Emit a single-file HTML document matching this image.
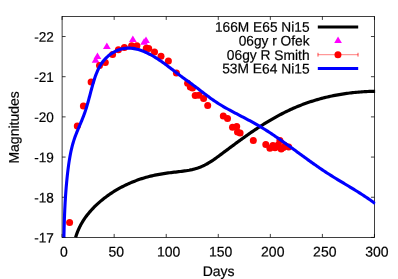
<!DOCTYPE html>
<html><head><meta charset="utf-8"><style>
html,body{margin:0;padding:0;background:#fff;}
svg{display:block;}
text{filter:grayscale(1);}
text{font-family:"Liberation Sans",sans-serif;font-size:14px;fill:#000;stroke:#000;stroke-width:0.2px;}
</style></head><body>
<svg width="398" height="279" viewBox="0 0 398 279">
<rect width="398" height="279" fill="#fff"/>
<rect x="62.10" y="16.43" width="312.35" height="221.00" fill="none" stroke="#000" stroke-width="0.75"/>
<path d="M62.10 237.43 V233.93 M62.10 16.43 V19.93 M114.16 237.43 V233.93 M114.16 16.43 V19.93 M166.22 237.43 V233.93 M166.22 16.43 V19.93 M218.27 237.43 V233.93 M218.27 16.43 V19.93 M270.33 237.43 V233.93 M270.33 16.43 V19.93 M322.39 237.43 V233.93 M322.39 16.43 V19.93 M374.45 237.43 V233.93 M374.45 16.43 V19.93 M62.10 237.43 H65.60 M374.45 237.43 H370.95 M62.10 197.25 H65.60 M374.45 197.25 H370.95 M62.10 157.07 H65.60 M374.45 157.07 H370.95 M62.10 116.88 H65.60 M374.45 116.88 H370.95 M62.10 76.70 H65.60 M374.45 76.70 H370.95 M62.10 36.52 H65.60 M374.45 36.52 H370.95 " stroke="#000" stroke-width="0.75" fill="none"/>
<text transform="translate(63.90,256.4) rotate(0.03)" text-anchor="middle">0</text>
<text transform="translate(116.26,256.4) rotate(0.03)" text-anchor="middle">50</text>
<text transform="translate(168.62,256.4) rotate(0.03)" text-anchor="middle">100</text>
<text transform="translate(220.67,256.4) rotate(0.03)" text-anchor="middle">150</text>
<text transform="translate(272.73,256.4) rotate(0.03)" text-anchor="middle">200</text>
<text transform="translate(324.79,256.4) rotate(0.03)" text-anchor="middle">250</text>
<text transform="translate(376.85,256.4) rotate(0.03)" text-anchor="middle">300</text>
<text transform="translate(53.8,242.63) rotate(0.03) scale(0.97,1)" text-anchor="end">-17</text>
<text transform="translate(53.8,202.45) rotate(0.03) scale(0.97,1)" text-anchor="end">-18</text>
<text transform="translate(53.8,162.27) rotate(0.03) scale(0.97,1)" text-anchor="end">-19</text>
<text transform="translate(53.8,122.08) rotate(0.03) scale(0.97,1)" text-anchor="end">-20</text>
<text transform="translate(53.8,81.90) rotate(0.03) scale(0.97,1)" text-anchor="end">-21</text>
<text transform="translate(53.8,41.72) rotate(0.03) scale(0.97,1)" text-anchor="end">-22</text>
<text transform="translate(218.6,276) rotate(0.03)" text-anchor="middle">Days</text>
<text transform="translate(18.8,127.4) rotate(-89.97)" text-anchor="middle">Magnitudes</text>
<clipPath id="c"><rect x="61.60" y="16.43" width="313.75" height="221.40"/></clipPath>
<g clip-path="url(#c)">
<path d="M75.61 237.50 L76.05 236.02 L76.54 234.55 L77.05 233.10 L77.60 231.67 L78.18 230.26 L78.79 228.87 L79.43 227.50 L80.10 226.14 L80.80 224.81 L81.53 223.50 L82.29 222.20 L83.07 220.92 L83.89 219.66 L84.72 218.42 L85.58 217.20 L86.47 215.99 L87.37 214.80 L88.31 213.63 L89.26 212.48 L90.23 211.34 L91.23 210.22 L92.24 209.12 L93.27 208.04 L94.32 206.97 L95.39 205.91 L96.48 204.88 L97.58 203.86 L98.69 202.85 L99.82 201.86 L100.97 200.89 L102.13 199.93 L103.30 198.99 L104.48 198.06 L105.68 197.15 L106.89 196.26 L108.11 195.38 L109.34 194.51 L110.59 193.66 L111.84 192.83 L113.11 192.02 L114.39 191.22 L115.68 190.43 L116.97 189.67 L118.28 188.91 L119.60 188.18 L120.93 187.46 L122.26 186.76 L123.61 186.07 L124.96 185.40 L126.33 184.74 L127.70 184.11 L129.07 183.49 L130.46 182.88 L131.85 182.29 L133.25 181.72 L134.66 181.17 L136.07 180.63 L137.49 180.11 L138.91 179.60 L140.34 179.11 L141.78 178.64 L143.22 178.19 L144.66 177.75 L146.11 177.33 L147.56 176.93 L149.02 176.54 L150.48 176.17 L151.95 175.82 L153.41 175.48 L154.88 175.17 L156.36 174.87 L157.83 174.58 L159.31 174.31 L160.79 174.06 L162.27 173.82 L163.75 173.59 L165.24 173.37 L166.73 173.16 L168.22 172.96 L169.71 172.76 L171.21 172.57 L172.70 172.39 L174.20 172.21 L175.70 172.04 L177.20 171.86 L178.70 171.69 L180.21 171.51 L181.71 171.33 L183.21 171.14 L184.71 170.94 L186.20 170.72 L187.69 170.47 L189.17 170.21 L190.64 169.91 L192.10 169.59 L193.55 169.23 L194.99 168.84 L196.42 168.41 L197.83 167.96 L199.23 167.46 L200.62 166.94 L201.99 166.37 L203.35 165.77 L204.69 165.13 L206.01 164.45 L207.32 163.73 L208.62 162.98 L209.89 162.21 L211.16 161.40 L212.42 160.57 L213.67 159.72 L214.90 158.85 L216.14 157.97 L217.36 157.08 L218.59 156.18 L219.80 155.28 L221.02 154.37 L222.24 153.47 L223.45 152.56 L224.67 151.66 L225.88 150.75 L227.10 149.85 L228.31 148.94 L229.52 148.04 L230.73 147.14 L231.95 146.24 L233.16 145.35 L234.37 144.45 L235.59 143.55 L236.80 142.66 L238.02 141.77 L239.24 140.89 L240.46 140.00 L241.68 139.12 L242.90 138.24 L244.12 137.37 L245.35 136.49 L246.58 135.62 L247.81 134.76 L249.04 133.90 L250.27 133.04 L251.51 132.19 L252.75 131.34 L254.00 130.50 L255.25 129.66 L256.50 128.83 L257.75 128.00 L259.01 127.18 L260.28 126.36 L261.54 125.55 L262.81 124.75 L264.09 123.95 L265.37 123.15 L266.66 122.37 L267.95 121.59 L269.24 120.82 L270.54 120.05 L271.84 119.30 L273.15 118.55 L274.46 117.80 L275.78 117.07 L277.10 116.34 L278.42 115.63 L279.75 114.92 L281.09 114.22 L282.43 113.52 L283.77 112.84 L285.12 112.17 L286.47 111.50 L287.83 110.85 L289.19 110.21 L290.55 109.57 L291.92 108.95 L293.30 108.33 L294.68 107.73 L296.06 107.14 L297.45 106.56 L298.84 105.99 L300.24 105.43 L301.64 104.88 L303.04 104.35 L304.45 103.82 L305.86 103.31 L307.28 102.81 L308.70 102.32 L310.13 101.84 L311.56 101.38 L312.99 100.92 L314.43 100.47 L315.87 100.04 L317.31 99.62 L318.76 99.21 L320.21 98.80 L321.66 98.41 L323.11 98.04 L324.57 97.67 L326.03 97.31 L327.50 96.96 L328.97 96.63 L330.44 96.30 L331.91 95.99 L333.38 95.68 L334.86 95.39 L336.34 95.11 L337.82 94.83 L339.30 94.57 L340.79 94.32 L342.28 94.08 L343.77 93.85 L345.26 93.63 L346.75 93.42 L348.25 93.22 L349.74 93.03 L351.24 92.84 L352.74 92.67 L354.24 92.51 L355.74 92.36 L357.24 92.22 L358.74 92.09 L360.25 91.97 L361.75 91.86 L363.25 91.76 L364.76 91.67 L366.27 91.58 L367.77 91.51 L369.28 91.45 L370.79 91.40 L372.29 91.35 L373.80 91.32 L375.31 91.29" stroke="#000" stroke-width="3.2" fill="none" stroke-linejoin="round"/>
<path d="M97.45 52.55 L101.30 59.05 L93.60 59.05 Z" fill="#ff00ff"/>
<path d="M95.60 56.35 L99.45 62.85 L91.75 62.85 Z" fill="#ff00ff"/>
<path d="M106.85 42.55 L110.70 49.05 L103.00 49.05 Z" fill="#ff00ff"/>
<path d="M132.85 35.55 L136.70 42.05 L129.00 42.05 Z" fill="#ff00ff"/>
<path d="M146.00 36.55 L149.85 43.05 L142.15 43.05 Z" fill="#ff00ff"/>
<path d="M144.10 38.35 L147.95 44.85 L140.25 44.85 Z" fill="#ff00ff"/>
<circle cx="69.60" cy="222.60" r="3.5" fill="#ff0000"/>
<circle cx="77.30" cy="126.00" r="3.5" fill="#ff0000"/>
<circle cx="83.40" cy="105.90" r="3.5" fill="#ff0000"/>
<circle cx="91.10" cy="81.90" r="3.5" fill="#ff0000"/>
<circle cx="99.50" cy="65.60" r="3.5" fill="#ff0000"/>
<circle cx="105.30" cy="62.50" r="3.5" fill="#ff0000"/>
<circle cx="112.60" cy="54.50" r="3.5" fill="#ff0000"/>
<circle cx="118.40" cy="49.80" r="3.5" fill="#ff0000"/>
<circle cx="124.40" cy="47.60" r="3.5" fill="#ff0000"/>
<circle cx="131.60" cy="45.80" r="3.5" fill="#ff0000"/>
<circle cx="136.90" cy="45.80" r="3.5" fill="#ff0000"/>
<circle cx="146.30" cy="48.30" r="3.5" fill="#ff0000"/>
<circle cx="148.70" cy="48.40" r="3.5" fill="#ff0000"/>
<circle cx="154.50" cy="51.90" r="3.5" fill="#ff0000"/>
<circle cx="161.00" cy="56.20" r="3.5" fill="#ff0000"/>
<circle cx="168.40" cy="61.00" r="3.5" fill="#ff0000"/>
<circle cx="176.40" cy="73.00" r="3.5" fill="#ff0000"/>
<circle cx="187.60" cy="83.30" r="3.5" fill="#ff0000"/>
<circle cx="190.30" cy="87.00" r="3.5" fill="#ff0000"/>
<circle cx="192.50" cy="87.90" r="3.5" fill="#ff0000"/>
<circle cx="195.20" cy="95.60" r="3.5" fill="#ff0000"/>
<circle cx="199.00" cy="95.20" r="3.5" fill="#ff0000"/>
<circle cx="203.60" cy="98.50" r="3.5" fill="#ff0000"/>
<circle cx="207.70" cy="105.50" r="3.5" fill="#ff0000"/>
<circle cx="223.30" cy="115.90" r="3.5" fill="#ff0000"/>
<circle cx="227.50" cy="118.40" r="3.5" fill="#ff0000"/>
<circle cx="232.50" cy="127.30" r="3.5" fill="#ff0000"/>
<circle cx="236.70" cy="126.40" r="3.5" fill="#ff0000"/>
<circle cx="237.50" cy="132.00" r="3.5" fill="#ff0000"/>
<circle cx="240.10" cy="132.90" r="3.5" fill="#ff0000"/>
<circle cx="253.30" cy="140.50" r="3.5" fill="#ff0000"/>
<circle cx="265.80" cy="144.60" r="3.5" fill="#ff0000"/>
<circle cx="269.90" cy="148.20" r="3.5" fill="#ff0000"/>
<circle cx="272.90" cy="145.40" r="3.5" fill="#ff0000"/>
<circle cx="276.70" cy="146.40" r="3.5" fill="#ff0000"/>
<circle cx="279.90" cy="140.50" r="3.5" fill="#ff0000"/>
<circle cx="281.20" cy="149.10" r="3.5" fill="#ff0000"/>
<circle cx="285.00" cy="145.80" r="3.5" fill="#ff0000"/>
<circle cx="288.70" cy="146.90" r="3.5" fill="#ff0000"/>
<circle cx="275.00" cy="147.80" r="3.5" fill="#ff0000"/>
<circle cx="283.40" cy="147.60" r="3.5" fill="#ff0000"/>
<circle cx="278.30" cy="144.80" r="3.5" fill="#ff0000"/>
<path d="M63.90 237.40 L63.93 235.89 L63.96 234.39 L64.00 232.89 L64.04 231.38 L64.07 229.88 L64.11 228.38 L64.15 226.87 L64.20 225.37 L64.24 223.87 L64.29 222.36 L64.34 220.86 L64.39 219.36 L64.44 217.85 L64.50 216.35 L64.55 214.85 L64.61 213.34 L64.68 211.84 L64.74 210.34 L64.81 208.83 L64.89 207.33 L64.96 205.83 L65.04 204.32 L65.12 202.82 L65.21 201.32 L65.30 199.82 L65.39 198.31 L65.49 196.81 L65.59 195.31 L65.69 193.81 L65.80 192.31 L65.91 190.81 L66.03 189.31 L66.15 187.81 L66.28 186.31 L66.41 184.81 L66.54 183.31 L66.68 181.81 L66.83 180.31 L66.97 178.81 L67.13 177.31 L67.29 175.81 L67.45 174.32 L67.62 172.82 L67.80 171.32 L67.98 169.83 L68.17 168.33 L68.36 166.83 L68.56 165.34 L68.77 163.85 L68.99 162.36 L69.22 160.87 L69.46 159.38 L69.71 157.90 L69.97 156.42 L70.24 154.94 L70.53 153.46 L70.83 151.99 L71.15 150.53 L71.48 149.06 L71.83 147.60 L72.20 146.15 L72.58 144.70 L72.99 143.26 L73.41 141.82 L73.86 140.39 L74.32 138.96 L74.81 137.55 L75.32 136.13 L75.85 134.73 L76.40 133.33 L76.96 131.93 L77.53 130.54 L78.11 129.15 L78.70 127.76 L79.29 126.37 L79.88 124.99 L80.47 123.60 L81.05 122.21 L81.63 120.83 L82.20 119.44 L82.75 118.04 L83.30 116.65 L83.83 115.25 L84.34 113.85 L84.84 112.44 L85.33 111.03 L85.79 109.62 L86.24 108.20 L86.68 106.78 L87.11 105.36 L87.52 103.93 L87.93 102.50 L88.32 101.06 L88.72 99.62 L89.10 98.18 L89.49 96.74 L89.87 95.29 L90.25 93.84 L90.64 92.39 L91.02 90.94 L91.41 89.48 L91.81 88.02 L92.21 86.56 L92.62 85.10 L93.04 83.64 L93.48 82.18 L93.92 80.71 L94.38 79.25 L94.86 77.79 L95.36 76.34 L95.88 74.89 L96.43 73.46 L97.01 72.04 L97.61 70.64 L98.25 69.26 L98.93 67.90 L99.64 66.57 L100.40 65.26 L101.19 63.98 L102.03 62.74 L102.92 61.53 L103.86 60.35 L104.86 59.22 L105.90 58.12 L106.99 57.07 L108.12 56.07 L109.29 55.11 L110.50 54.21 L111.75 53.36 L113.03 52.56 L114.33 51.83 L115.66 51.15 L117.02 50.53 L118.39 49.98 L119.79 49.50 L121.19 49.09 L122.61 48.75 L124.03 48.48 L125.47 48.29 L126.90 48.17 L128.34 48.13 L129.78 48.15 L131.22 48.25 L132.66 48.40 L134.11 48.62 L135.55 48.89 L136.99 49.22 L138.42 49.60 L139.86 50.04 L141.28 50.52 L142.71 51.04 L144.12 51.61 L145.53 52.22 L146.93 52.86 L148.33 53.54 L149.71 54.25 L151.08 54.98 L152.44 55.75 L153.79 56.53 L155.12 57.34 L156.44 58.16 L157.75 59.00 L159.04 59.85 L160.31 60.71 L161.57 61.58 L162.81 62.45 L164.04 63.33 L165.25 64.21 L166.45 65.10 L167.65 66.00 L168.83 66.89 L170.01 67.79 L171.18 68.69 L172.35 69.59 L173.52 70.49 L174.69 71.39 L175.86 72.29 L177.03 73.19 L178.20 74.09 L179.38 74.98 L180.57 75.87 L181.76 76.76 L182.97 77.65 L184.17 78.53 L185.38 79.41 L186.60 80.29 L187.82 81.18 L189.04 82.06 L190.26 82.95 L191.48 83.84 L192.70 84.73 L193.91 85.63 L195.12 86.54 L196.33 87.45 L197.54 88.36 L198.74 89.28 L199.95 90.20 L201.15 91.12 L202.35 92.04 L203.55 92.96 L204.75 93.88 L205.96 94.79 L207.16 95.70 L208.37 96.60 L209.59 97.49 L210.80 98.38 L212.03 99.25 L213.26 100.12 L214.50 100.97 L215.74 101.80 L216.99 102.62 L218.25 103.43 L219.52 104.23 L220.79 105.01 L222.07 105.78 L223.36 106.54 L224.65 107.30 L225.95 108.04 L227.25 108.77 L228.56 109.50 L229.87 110.22 L231.18 110.93 L232.50 111.64 L233.82 112.35 L235.15 113.05 L236.48 113.74 L237.80 114.44 L239.14 115.13 L240.47 115.83 L241.80 116.52 L243.14 117.21 L244.47 117.91 L245.81 118.61 L247.14 119.31 L248.47 120.01 L249.80 120.72 L251.12 121.44 L252.44 122.16 L253.76 122.89 L255.07 123.62 L256.38 124.37 L257.68 125.12 L258.98 125.88 L260.27 126.65 L261.56 127.43 L262.84 128.21 L264.12 129.00 L265.39 129.80 L266.66 130.61 L267.92 131.42 L269.19 132.24 L270.44 133.06 L271.70 133.89 L272.95 134.72 L274.19 135.56 L275.44 136.41 L276.68 137.25 L277.92 138.11 L279.15 138.96 L280.39 139.83 L281.62 140.69 L282.85 141.56 L284.07 142.43 L285.30 143.30 L286.52 144.18 L287.74 145.06 L288.96 145.94 L290.18 146.83 L291.40 147.71 L292.62 148.60 L293.84 149.48 L295.05 150.37 L296.27 151.26 L297.48 152.15 L298.70 153.04 L299.92 153.93 L301.13 154.82 L302.35 155.70 L303.57 156.59 L304.78 157.48 L306.00 158.36 L307.22 159.24 L308.44 160.12 L309.67 161.00 L310.89 161.88 L312.12 162.75 L313.34 163.62 L314.57 164.49 L315.81 165.35 L317.04 166.21 L318.28 167.07 L319.52 167.92 L320.76 168.77 L322.00 169.61 L323.25 170.45 L324.50 171.28 L325.76 172.11 L327.02 172.93 L328.28 173.74 L329.55 174.55 L330.82 175.36 L332.09 176.16 L333.37 176.95 L334.64 177.74 L335.92 178.53 L337.21 179.31 L338.49 180.09 L339.78 180.87 L341.06 181.65 L342.35 182.43 L343.64 183.20 L344.93 183.97 L346.22 184.75 L347.51 185.52 L348.79 186.30 L350.08 187.08 L351.37 187.86 L352.65 188.64 L353.93 189.42 L355.22 190.21 L356.49 191.00 L357.77 191.79 L359.04 192.59 L360.31 193.40 L361.58 194.21 L362.84 195.02 L364.10 195.84 L365.36 196.67 L366.61 197.51 L367.85 198.35 L369.09 199.20 L370.33 200.06 L371.56 200.93 L372.78 201.81 L374.00 202.70 L375.21 203.60" stroke="#0000ff" stroke-width="3.1" fill="none" stroke-linejoin="round"/>
</g>
<text transform="translate(309.6,31.75) rotate(0.03) scale(0.981,1)" text-anchor="end">166M E65 Ni15</text>
<text transform="translate(309.6,45.50) rotate(0.03) scale(0.981,1)" text-anchor="end">06gy r Ofek</text>
<text transform="translate(309.6,59.90) rotate(0.03) scale(0.986,1)" text-anchor="end">06gy R Smith</text>
<text transform="translate(309.6,73.40) rotate(0.03) scale(0.986,1)" text-anchor="end">53M E64 Ni15</text>
<path d="M317.8 27.05 H358.2" stroke="#000" stroke-width="3"/>
<path d="M338.05 36.50 L341.90 43.00 L334.20 43.00 Z" fill="#ff00ff"/>
<path d="M317.8 54.70 H358.2" stroke="#ff0000" stroke-width="0.5" fill="none"/>
<path d="M318.0 52.80 V56.60 M358.0 52.80 V56.60" stroke="#ff0000" stroke-width="0.7" fill="none"/>
<circle cx="337.95" cy="54.70" r="3.5" fill="#ff0000"/>
<path d="M317.8 68.40 H358.2" stroke="#0000ff" stroke-width="3"/>
</svg>
</body></html>
